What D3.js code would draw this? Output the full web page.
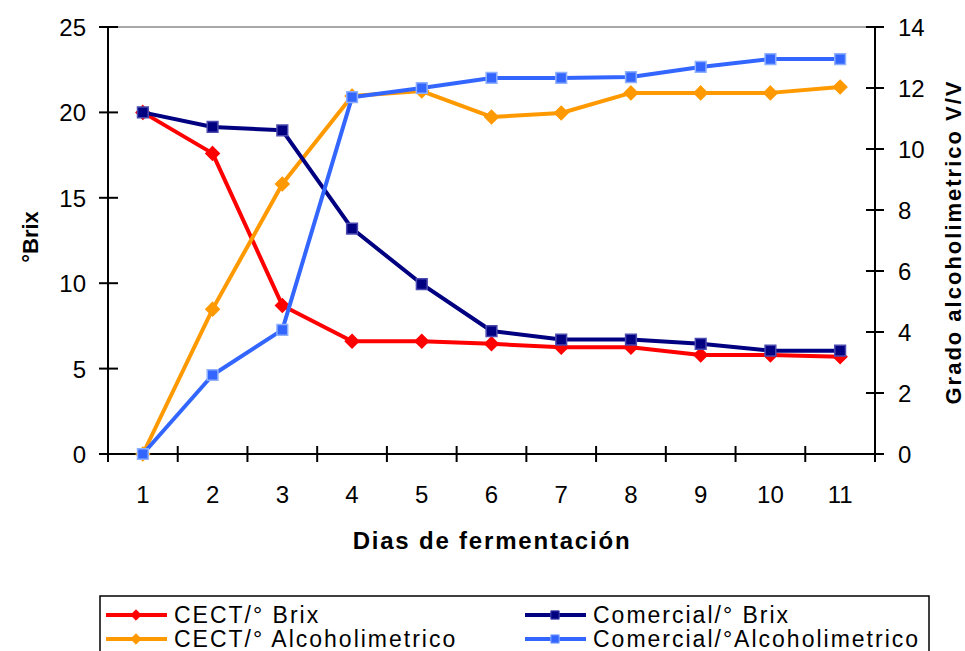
<!DOCTYPE html>
<html>
<head>
<meta charset="utf-8">
<script src="https://cdn.jsdelivr.net/npm/d3@7"></script>
<style>
	body { margin: 0; background: #fff; }
	svg text { font-family: "Liberation Sans", Arial, sans-serif; fill: #000; }
</style>
</head>
<body>
<svg id="chart" width="965" height="651"></svg>
<script>
// dias de fermentacion
var dias = [1, 2, 3, 4, 5, 6, 7, 8, 9, 10, 11];

// °Brix (eje izquierdo)
var cectBrix = [20.0, 17.6, 8.7, 6.6, 6.6, 6.45, 6.25, 6.25, 5.8, 5.8, 5.7];
var comercialBrix = [20.0, 19.15, 18.95, 13.2, 9.95, 7.2, 6.7, 6.7, 6.45, 6.05, 6.05];

// grado alcoholimetrico (eje derecho)
var cectAlc = [0, 4.75, 8.85, 11.74, 11.9, 11.05, 11.18, 11.84, 11.84, 11.84, 12.03];
var comercialAlc = [0, 2.59, 4.07, 11.7, 12.0, 12.33, 12.33, 12.36, 12.69, 12.95, 12.95];

var brixTicks = [0, 5, 10, 15, 20, 25];
var alcTicks = [0, 2, 4, 6, 8, 10, 12, 14];

var series = [
	{ name: "CECT/° Brix", values: cectBrix, axis: "left", color: "#FF0000", stroke: "#FF0000", shape: "diamond" },
	{ name: "CECT/° Alcoholimetrico", values: cectAlc, axis: "right", color: "#FF9900", stroke: "#FF9900", shape: "diamond" },
	{ name: "Comercial/° Brix", values: comercialBrix, axis: "left", color: "#000080", stroke: "#4a4ab0", shape: "square" },
	{ name: "Comercial/°Alcoholimetrico", values: comercialAlc, axis: "right", color: "#3366FF", stroke: "#8fb0ff", shape: "square" }
];

var svg = d3.select("#chart"),
	pLeft = 108, pRight = 875, pTop = 27, pBottom = 454;

var x = d3.scaleBand().domain(dias).range([pLeft, pRight]),
	yL = d3.scaleLinear().domain([0, 25]).range([pBottom, pTop]),
	yR = d3.scaleLinear().domain([0, 14]).range([pBottom, pTop]);

// top border of plot area
svg.append("line")
	.attr("x1", pLeft).attr("x2", pRight)
	.attr("y1", pTop).attr("y2", pTop)
	.attr("stroke", "#a8a8a8").attr("stroke-width", 2);

// left axis
var gL = svg.append("g");
gL.append("line").attr("x1", pLeft).attr("x2", pLeft).attr("y1", pTop).attr("y2", pBottom + 6)
	.attr("stroke", "#000").attr("stroke-width", 2);
gL.selectAll(".t").data(brixTicks).enter().append("line")
	.attr("x1", pLeft - 9).attr("x2", pLeft + 10)
	.attr("y1", d => yL(d)).attr("y2", d => yL(d))
	.attr("stroke", "#000").attr("stroke-width", 2);
gL.selectAll("text").data(brixTicks).enter().append("text")
	.attr("x", pLeft - 22).attr("y", d => yL(d) + 9)
	.attr("text-anchor", "end").style("font-size", "24px")
	.text(d => d);

// right axis
var gR = svg.append("g");
gR.append("line").attr("x1", pRight).attr("x2", pRight).attr("y1", pTop).attr("y2", pBottom + 6)
	.attr("stroke", "#000").attr("stroke-width", 2);
gR.selectAll(".t").data(alcTicks).enter().append("line")
	.attr("x1", pRight - 9).attr("x2", pRight + 9)
	.attr("y1", d => yR(d)).attr("y2", d => yR(d))
	.attr("stroke", "#000").attr("stroke-width", 2);
gR.selectAll("text").data(alcTicks).enter().append("text")
	.attr("x", pRight + 23).attr("y", d => yR(d) + 9)
	.attr("text-anchor", "start").style("font-size", "24px")
	.text(d => d);

// x axis
var gX = svg.append("g");
gX.append("line").attr("x1", pLeft).attr("x2", pRight).attr("y1", pBottom).attr("y2", pBottom)
	.attr("stroke", "#000").attr("stroke-width", 2);
var bounds = dias.map(d => x(d)).concat([pRight]);
gX.selectAll(".t").data(bounds).enter().append("line")
	.attr("x1", d => d).attr("x2", d => d)
	.attr("y1", pBottom - 8).attr("y2", pBottom + 8)
	.attr("stroke", "#000").attr("stroke-width", 2);
gX.selectAll("text").data(dias).enter().append("text")
	.attr("x", d => x(d) + x.bandwidth() / 2).attr("y", 503)
	.attr("text-anchor", "middle").style("font-size", "24px")
	.text(d => d);

// axis titles
svg.append("text")
	.attr("x", 492).attr("y", 549)
	.attr("text-anchor", "middle").style("font-size", "24px").style("font-weight", "bold")
	.style("letter-spacing", "1.8px")
	.text("Dias de fermentación");
svg.append("text")
	.attr("transform", "translate(38,237) rotate(-90)")
	.attr("text-anchor", "middle").style("font-size", "22px").style("font-weight", "bold")
	.text("°Brix");
svg.append("text")
	.attr("transform", "translate(961,242) rotate(-90)")
	.attr("text-anchor", "middle").style("font-size", "22px").style("font-weight", "bold")
	.style("letter-spacing", "2px")
	.text("Grado alcoholimetrico V/V");

// markers
var diamond = d3.symbol().type(d3.symbolDiamond2).size(115),
	square = d3.symbol().type(d3.symbolSquare).size(115);

function drawMarker(g, s, cx, cy) {
	g.append("path")
		.attr("transform", "translate(" + cx + "," + cy + ")")
		.attr("d", s.shape == "diamond" ? diamond() : square())
		.attr("fill", s.color)
		.attr("stroke", s.stroke)
		.attr("stroke-width", 1.5);
}

// series
series.forEach(function(s) {
	var yy = s.axis == "left" ? yL : yR;
	var line = d3.line()
		.x((d, i) => x(dias[i]) + x.bandwidth() / 2)
		.y(d => yy(d));
	var g = svg.append("g");
	g.append("path")
		.attr("d", line(s.values))
		.attr("fill", "none")
		.attr("stroke", s.color)
		.attr("stroke-width", 4)
		.attr("stroke-linejoin", "round");
	s.values.forEach(function(v, i) {
		drawMarker(g, s, x(dias[i]) + x.bandwidth() / 2, yy(v));
	});
});

// legend
var leg = svg.append("g");
leg.append("rect")
	.attr("x", 100).attr("y", 596)
	.attr("width", 829).attr("height", 70)
	.attr("fill", "#fff").attr("stroke", "#000").attr("stroke-width", 1.5);

var legPos = [[106, 615], [106, 639], [525, 615], [525, 639]];
series.forEach(function(s, i) {
	var p = legPos[i];
	leg.append("line")
		.attr("x1", p[0]).attr("x2", p[0] + 61)
		.attr("y1", p[1]).attr("y2", p[1])
		.attr("stroke", s.color).attr("stroke-width", 4);
	leg.append("path")
		.attr("transform", "translate(" + (p[0] + 30) + "," + p[1] + ")")
		.attr("d", d3.symbol().type(s.shape == "diamond" ? d3.symbolDiamond2 : d3.symbolSquare).size(70)())
		.attr("fill", s.color).attr("stroke", s.stroke);
	leg.append("text")
		.attr("x", p[0] + 68).attr("y", p[1] + 8)
		.style("font-size", "23px")
		.style("letter-spacing", "2px")
		.text(s.name);
});
</script>
</body>
</html>
